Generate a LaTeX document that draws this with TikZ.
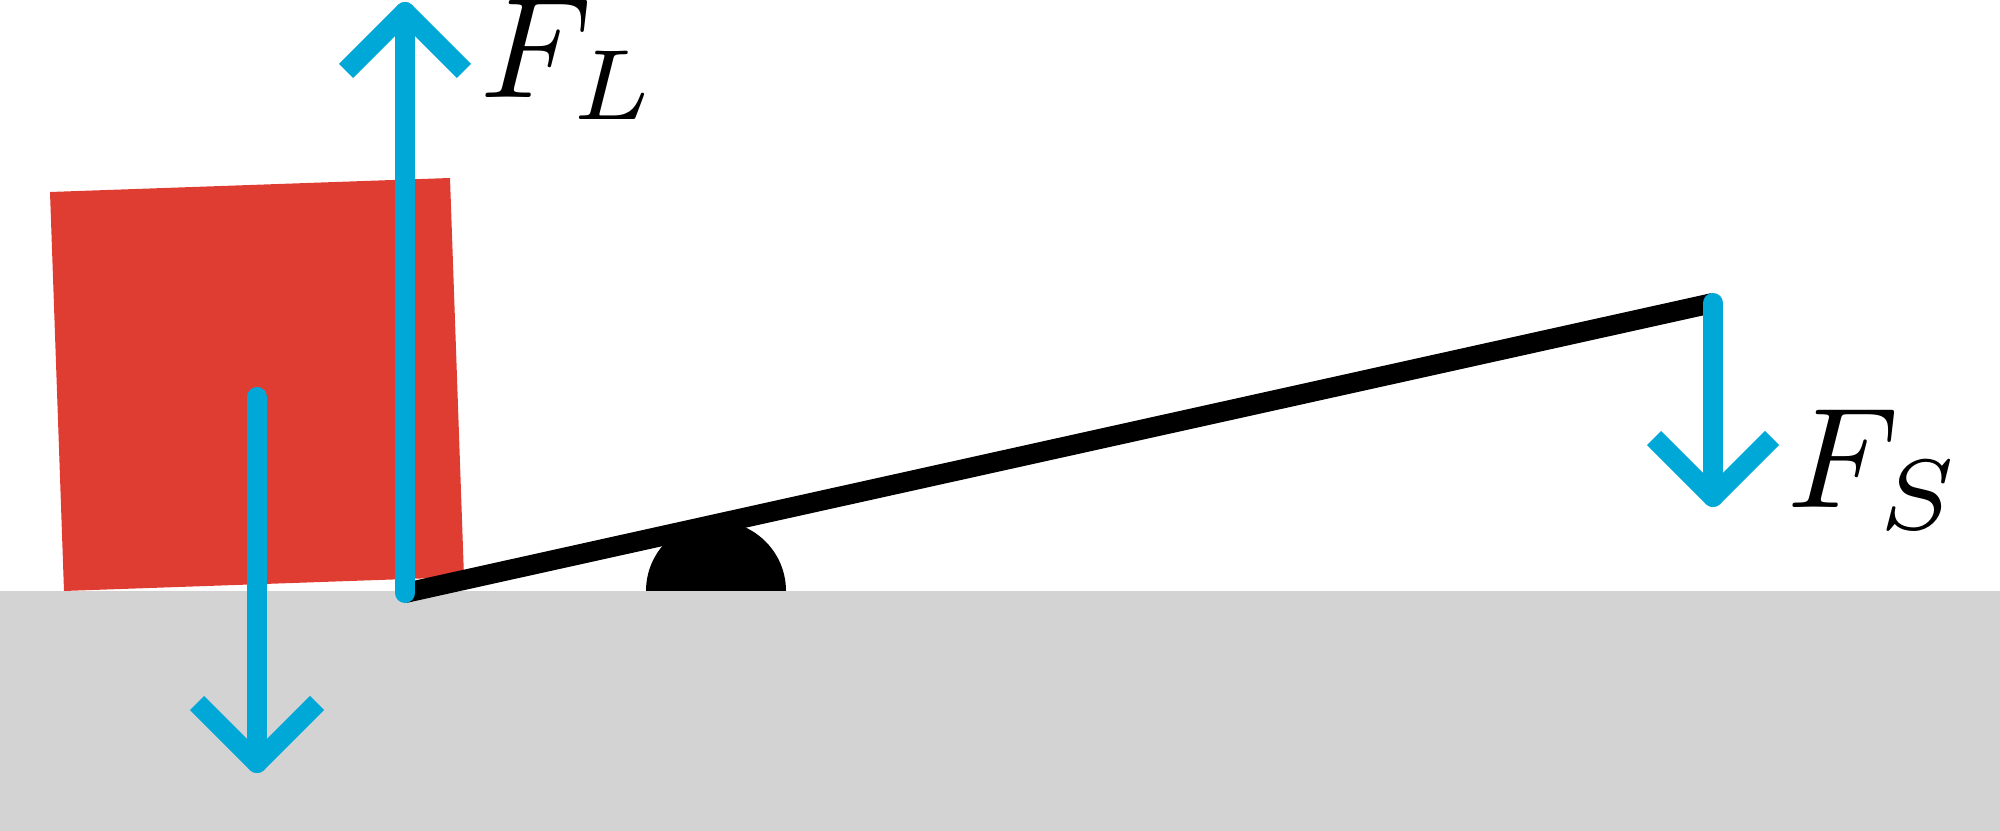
\documentclass[tikz,border=0pt]{standalone}
\definecolor{brickred}{RGB}{224,61,50}
\definecolor{forceblue}{RGB}{0,168,216}
\definecolor{groundgray}{RGB}{211,211,211}
\tikzset{
  force/.style={draw=forceblue, line width=0.2cm, line cap=round},
  forcehead/.style={draw=forceblue, line width=0.2cm, line cap=butt, line join=round},
  lever/.style={draw=black, line width=0.2cm},
  lbl/.style={inner sep=0pt, scale=4.065, anchor=base west},
}
\begin{document}
\begin{tikzpicture}[x=0.01cm,y=-0.01cm]
\useasboundingbox (0,0) rectangle (2000,831);
% ground
\fill[groundgray] (0,591) rectangle (2000,831);
% load (red square)
\fill[brickred] (50,192) -- (450,178) -- (464,577) -- (64,591) -- cycle;
% fulcrum
\fill[black] (646,591) arc[start angle=180, end angle=360, radius=70] -- cycle;
% lever
\coordinate (levL) at (405,593);
\coordinate (levR) at (1713,303);
\draw[lever] (levL) -- (levR);
% weight of the load
\coordinate (wTop) at (257,397);
\coordinate (wTip) at (257,763);
\draw[force] (wTop) -- (wTip);
\draw[forcehead] ([shift={(-60,-60)}]wTip) -- (wTip) -- ([shift={(60,-60)}]wTip);
% F_L
\coordinate (flTip) at (405,12);
\draw[force] (levL) -- (flTip);
\draw[forcehead] ([shift={(-59,59)}]flTip) -- (flTip) -- ([shift={(59,59)}]flTip);
% F_S
\coordinate (fsTip) at (1713,497);
\draw[force] (levR) -- (fsTip);
\draw[forcehead] ([shift={(-59,-59)}]fsTip) -- (fsTip) -- ([shift={(59,-59)}]fsTip);
% labels
\node[lbl] (FL) at (478,98) {$F_L$};
\node[lbl] (FS) at (1785,508) {$F_S$};
\end{tikzpicture}
\end{document}
